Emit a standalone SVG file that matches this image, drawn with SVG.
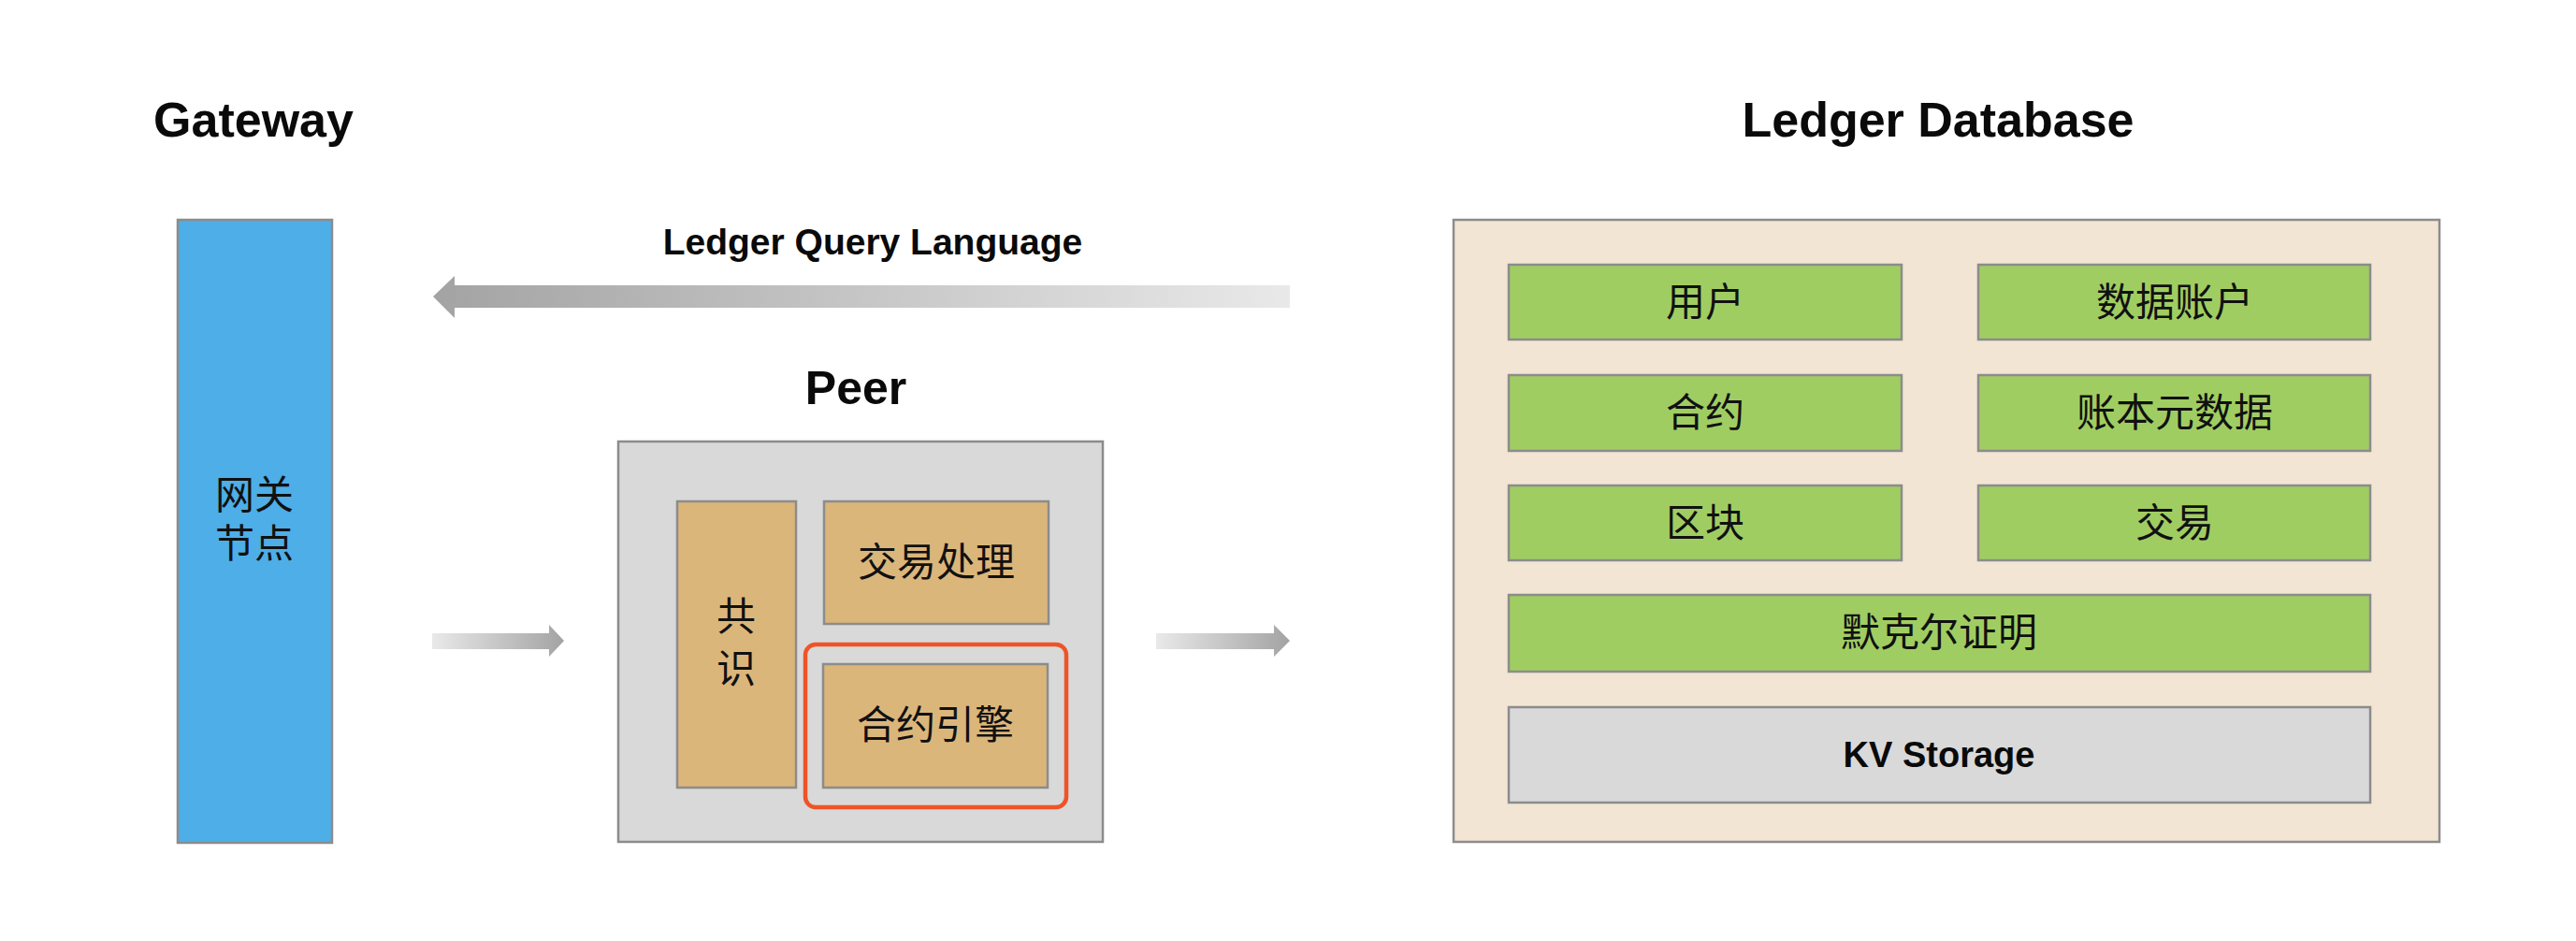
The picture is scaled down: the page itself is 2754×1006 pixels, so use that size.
<svg xmlns="http://www.w3.org/2000/svg" width="2754" height="1006" viewBox="0 0 2754 1006">
<defs>
<linearGradient id="gL" x1="0" y1="0" x2="1" y2="0"><stop offset="0" stop-color="#A3A3A3"/><stop offset="1" stop-color="#E9E9E9"/></linearGradient>
<linearGradient id="gR" x1="0" y1="0" x2="1" y2="0"><stop offset="0" stop-color="#E9E9E9"/><stop offset="1" stop-color="#A3A3A3"/></linearGradient>
</defs>
<style>
.title{font-family:"Liberation Sans","Noto Sans",sans-serif;font-weight:bold;fill:#0a0a0a;text-anchor:middle}
.cn{font-family:"Noto Sans CJK SC","Noto Sans",sans-serif;fill:#111;text-anchor:middle;font-size:42px}
.box{stroke:#8C8C8C;stroke-width:2.5}
.gw{fill:#4DAEE8}
.gray{fill:#D9D9D9}
.tan{fill:#DBB67B}
.db{fill:#F2E5D3}
.green{fill:#A0CD62}
</style>
<rect width="2754" height="1006" fill="#FFFFFF"/>

<text class="title" x="271" y="146" font-size="52">Gateway</text>
<text class="title" x="2072" y="146" font-size="52">Ledger Database</text>
<text class="title" x="933" y="272" font-size="39">Ledger Query Language</text>
<text class="title" x="915" y="432" font-size="50">Peer</text>

<g id="gateway">
<rect class="box gw" x="190" y="235" width="165" height="666"/>
<text class="cn" x="272" y="544" font-size="41"><tspan x="272">网关</tspan><tspan x="272" dy="52">节点</tspan></text>
</g>

<g id="peer">
<rect class="box gray" x="661" y="472" width="518" height="428"/>
<g id="consensus">
<rect class="box tan" x="724" y="536" width="127" height="306"/>
<text class="cn" x="787" y="674"><tspan x="787">共</tspan><tspan x="787" dy="56">识</tspan></text>
</g>
<g id="tx-process">
<rect class="box tan" x="881" y="536" width="240" height="131"/>
<text class="cn" x="1001" y="616">交易处理</text>
</g>
<g id="contract-engine">
<rect class="box tan" x="880" y="710" width="240" height="132"/>
<text class="cn" x="1000" y="790">合约引擎</text>
</g>
<rect x="861" y="689" width="279" height="174" rx="11" fill="none" stroke="#EE5428" stroke-width="4.5"/>
</g>

<g id="ledger-db">
<rect class="box db" x="1554" y="235" width="1054" height="665"/>
<g id="user"><rect class="box green" x="1613" y="283" width="420" height="80"/><text class="cn" x="1823" y="338">用户</text></g>
<g id="data-account"><rect class="box green" x="2115" y="283" width="419" height="80"/><text class="cn" x="2325" y="338">数据账户</text></g>
<g id="contract"><rect class="box green" x="1613" y="401" width="420" height="81"/><text class="cn" x="1823" y="456">合约</text></g>
<g id="ledger-meta"><rect class="box green" x="2115" y="401" width="419" height="81"/><text class="cn" x="2325" y="456">账本元数据</text></g>
<g id="block"><rect class="box green" x="1613" y="519" width="420" height="80"/><text class="cn" x="1823" y="574">区块</text></g>
<g id="transaction"><rect class="box green" x="2115" y="519" width="419" height="80"/><text class="cn" x="2325" y="574">交易</text></g>
<g id="merkle"><rect class="box green" x="1613" y="636" width="921" height="82"/><text class="cn" x="2073" y="691">默克尔证明</text></g>
<g id="kv"><rect class="box gray" x="1613" y="756" width="921" height="102"/><text class="title" x="2073" y="820" font-size="38">KV Storage</text></g>
</g>

<g id="connectors">
<polygon fill="url(#gL)" points="463,317 486,295 486,305 1379,305 1379,329 486,329 486,340"/>
<polygon fill="url(#gR)" points="462,677 587,677 587,668 603,685 587,702 587,694 462,694"/>
<polygon fill="url(#gR)" points="1236,677 1362,677 1362,668 1379,685 1362,702 1362,694 1236,694"/>
</g>
</svg>
